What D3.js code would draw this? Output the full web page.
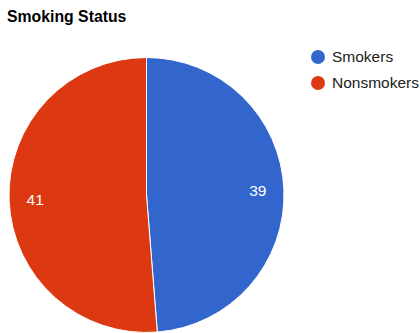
<!DOCTYPE html>
<html><head><meta charset="utf-8">
<script src="https://cdn.jsdelivr.net/npm/d3@7"></script>
<style>body{margin:0;background:#fff;}svg{display:block;font-family:Arial,"Liberation Sans",sans-serif;}</style>
</head><body>
<script>
const categories = ["Smokers", "Nonsmokers"];
const values = [39, 41];
const colors = ["#3366cc", "#dc3912"];
const title = "Smoking Status";

const W = 420, H = 333;
const svg = d3.select("body").append("svg").attr("width", W).attr("height", H);

svg.append("text").attr("x", 7).attr("y", 22)
  .attr("font-size", 15.8).attr("font-weight", "bold").attr("fill", "#000")
  .text(title);

const cx = 146.5, cy = 195, r = 137.5;
const color = d3.scaleOrdinal().domain(categories).range(colors);
const pie = d3.pie().sort(null).value(d => d.v);
const data = pie(categories.map((c, i) => ({c, v: values[i]})));
const arc = d3.arc().innerRadius(0).outerRadius(r);
const labelArc = d3.arc().innerRadius(r * 0.81).outerRadius(r * 0.81);

const g = svg.append("g").attr("transform", `translate(${cx},${cy})`);
g.selectAll("path").data(data).join("path")
  .attr("d", arc).attr("fill", d => color(d.data.c))
  .attr("stroke", "#fff").attr("stroke-width", 1);
g.selectAll("text").data(data).join("text")
  .attr("transform", d => `translate(${labelArc.centroid(d)})`)
  .attr("text-anchor", "middle").attr("dy", "0.35em")
  .attr("font-size", 15.5).attr("fill", "#fff")
  .text(d => d.data.v);

const leg = svg.append("g").selectAll("g").data(categories).join("g")
  .attr("transform", (d, i) => `translate(318,${57 + i * 26})`);
leg.append("circle").attr("r", 7).attr("fill", d => color(d));
leg.append("text").attr("x", 14).attr("dy", "0.35em")
  .attr("font-size", 15.5).attr("fill", "#222").text(d => d);
</script>
</body></html>
